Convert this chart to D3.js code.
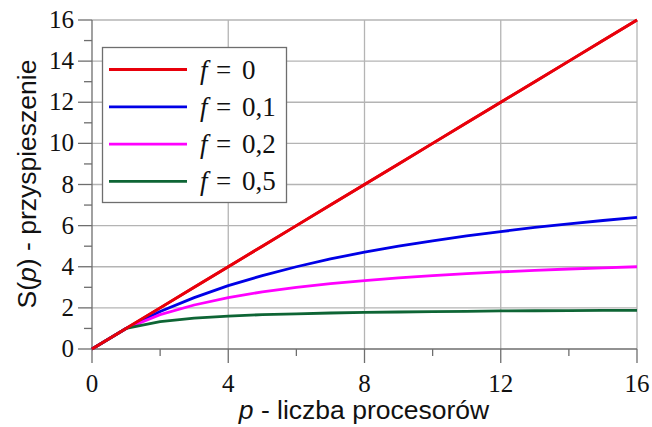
<!DOCTYPE html>
<html><head><meta charset="utf-8">
<script src="https://cdn.jsdelivr.net/npm/d3@7"></script>
<style>body{margin:0;background:#fff}</style>
</head><body>
<svg id="c" width="652" height="427"></svg>
<script>
const processors = [0,1,2,3,4,5,6,7,8,9,10,11,12,13,14,15,16];
const speedupF0  = [0,1,2,3,4,5,6,7,8,9,10,11,12,13,14,15,16];
const speedupF01 = [0,1,1.82,2.5,3.08,3.57,4,4.38,4.71,5,5.26,5.5,5.71,5.91,6.09,6.25,6.4];
const speedupF02 = [0,1,1.67,2.14,2.5,2.78,3,3.18,3.33,3.46,3.57,3.67,3.75,3.82,3.89,3.95,4];
const speedupF05 = [0,1,1.33,1.5,1.6,1.67,1.71,1.75,1.78,1.8,1.82,1.83,1.85,1.86,1.87,1.88,1.88];
const seriesLabels = ["0","0,1","0,2","0,5"];
const seriesColors = ["#e8000b","#0000e6","#ff00ff","#0e6535"];
const xTicks = [0,4,8,12,16];
const xMinor = [2,6,10,14];
const yTicks = [0,2,4,6,8,10,12,14,16];
const yMinor = [1,3,5,7,9,11,13,15];

const series = [speedupF0, speedupF01, speedupF02, speedupF05];
const svg = d3.select("#c");
const x = d3.scaleLinear().domain([0,16]).range([92,637]);
const y = d3.scaleLinear().domain([0,16]).range([349,20]);

const grid = svg.append("g").attr("stroke","#b4b4b4").attr("stroke-width",1.3);
xTicks.filter(d=>d>0).forEach(d=>grid.append("line").attr("x1",x(d)).attr("x2",x(d)).attr("y1",y(16)).attr("y2",y(0)));
yTicks.filter(d=>d>0).forEach(d=>grid.append("line").attr("x1",x(0)).attr("x2",x(16)).attr("y1",y(d)).attr("y2",y(d)));

const ax = svg.append("g").attr("stroke","#6e6e6e").attr("stroke-width",1.3);
ax.append("line").attr("x1",x(0)).attr("x2",x(16)).attr("y1",y(0)).attr("y2",y(0));
ax.append("line").attr("x1",x(0)).attr("x2",x(0)).attr("y1",y(0)).attr("y2",y(16));
xTicks.forEach(d=>ax.append("line").attr("x1",x(d)).attr("x2",x(d)).attr("y1",y(0)).attr("y2",y(0)+14));
xMinor.forEach(d=>ax.append("line").attr("x1",x(d)).attr("x2",x(d)).attr("y1",y(0)).attr("y2",y(0)+7));
yTicks.forEach(d=>ax.append("line").attr("x1",x(0)-14).attr("x2",x(0)).attr("y1",y(d)).attr("y2",y(d)));
yMinor.forEach(d=>ax.append("line").attr("x1",x(0)-8).attr("x2",x(0)).attr("y1",y(d)).attr("y2",y(d)));

const serif = "'Liberation Serif','Times New Roman',serif";
const sans = "'Liberation Sans',Arial,sans-serif";
svg.append("g").selectAll("text").data(xTicks).join("text")
  .attr("x",d=>x(d)).attr("y",392).attr("text-anchor","middle")
  .attr("font-family",serif).attr("font-size",25).attr("fill","#111").text(d=>d);
svg.append("g").selectAll("text").data(yTicks).join("text")
  .attr("x",74).attr("y",d=>y(d)+8).attr("text-anchor","end")
  .attr("font-family",serif).attr("font-size",25).attr("fill","#111").text(d=>d);

const xt = svg.append("text").attr("x",364).attr("y",419).attr("text-anchor","middle")
  .attr("font-family",sans).attr("font-size",26.5).attr("fill","#111");
xt.append("tspan").attr("font-style","italic").text("p");
xt.append("tspan").text(" - liczba procesorów");
const yt = svg.append("text").attr("transform","translate(36,184) rotate(-90)").attr("text-anchor","middle")
  .attr("font-family",sans).attr("font-size",26.5).attr("fill","#111");
yt.append("tspan").text("S(");
yt.append("tspan").attr("font-style","italic").text("p");
yt.append("tspan").text(") - przyspieszenie");

const line = d3.line().x((d,i)=>x(processors[i])).y(d=>y(d));
svg.append("g").selectAll("path").data(series).join("path")
  .attr("d",line).attr("fill","none").attr("stroke",(d,i)=>seriesColors[i])
  .attr("stroke-width",2.8).attr("stroke-linejoin","round");
svg.append("path").attr("d",line(speedupF0)).attr("fill","none").attr("stroke",seriesColors[0]).attr("stroke-width",2.8);

const lg = svg.append("g");
lg.append("rect").attr("x",102.5).attr("y",47.5).attr("width",184).attr("height",155)
  .attr("fill","#fff").attr("stroke","#6e6e6e").attr("stroke-width",1.3);
seriesLabels.forEach((lab,i)=>{
  const yy = 69.5 + i*37.3;
  lg.append("line").attr("x1",109).attr("x2",187).attr("y1",yy).attr("y2",yy)
    .attr("stroke",seriesColors[i]).attr("stroke-width",2.8);
  const g = lg.append("g").attr("font-family",serif).attr("font-size",27).attr("fill","#111");
  g.append("text").attr("x",200).attr("y",yy+9).attr("font-style","italic").text("f");
  g.append("text").attr("x",216).attr("y",yy+9).text("=");
  g.append("text").attr("x",242).attr("y",yy+9).text(lab);
});
</script>
</body></html>
